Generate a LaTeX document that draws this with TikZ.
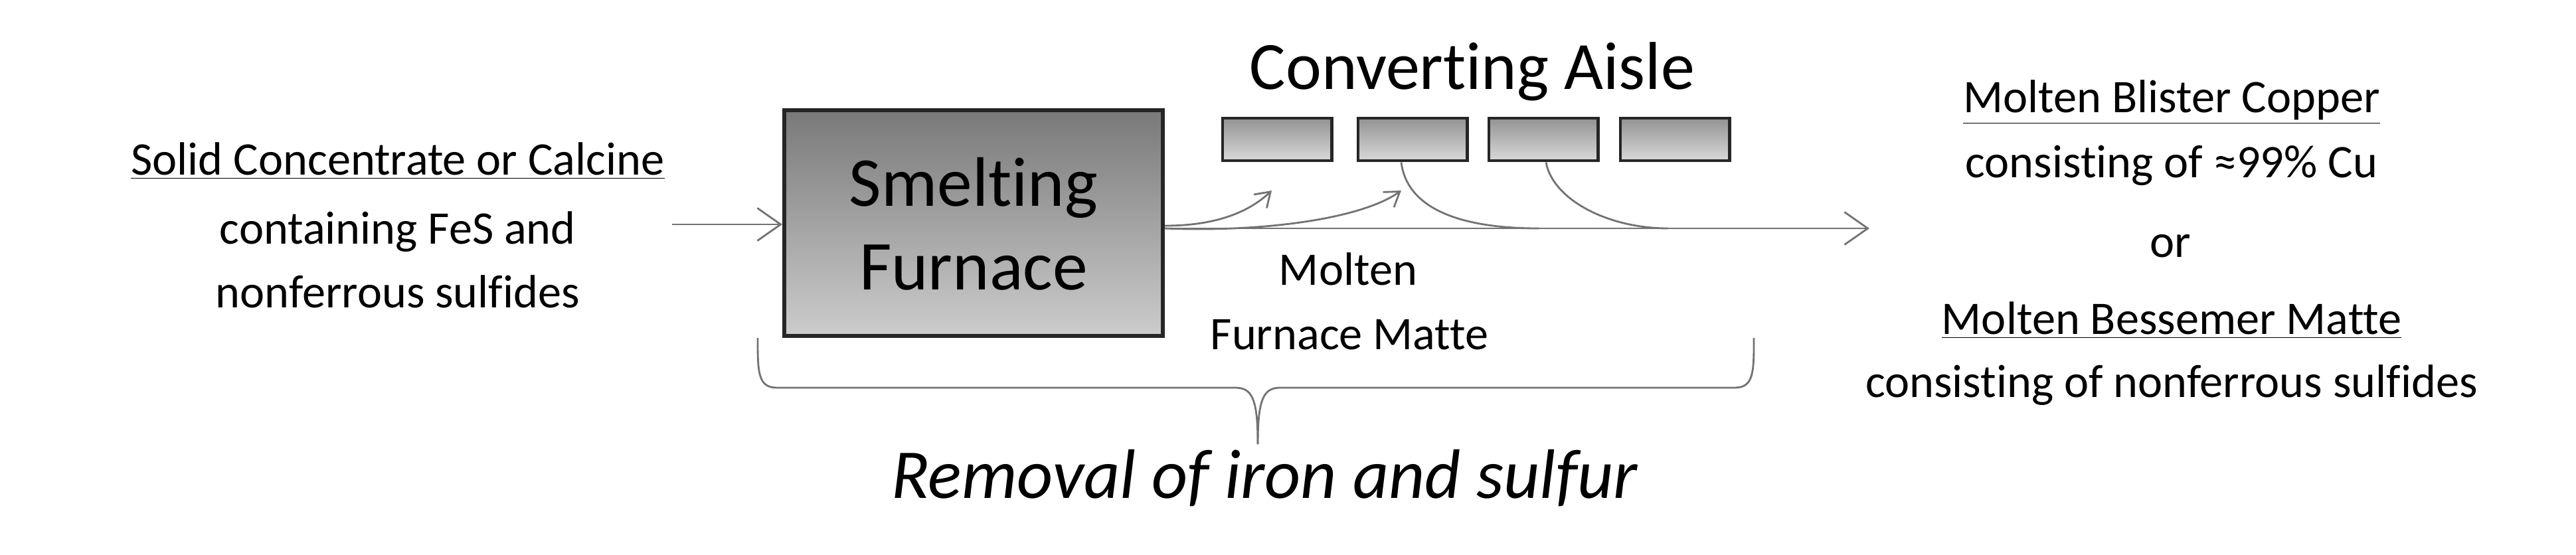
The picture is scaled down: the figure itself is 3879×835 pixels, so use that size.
\documentclass[tikz,border=0pt]{standalone}
\usepackage{fontspec}
\setmainfont{Carlito}[Ligatures=NoCommon]
\usetikzlibrary{arrows.meta}
\begin{document}
\begin{tikzpicture}[x=0.01cm,y=-0.01cm,
  txt/.style={font=\fontsize{20}{24}\selectfont, inner sep=0pt, anchor=base},
  flow/.style={draw=gray!90!black, line width=0.8pt},
  bighead/.style={-{Straight Barb[length=10pt,width=14pt]}},
  smallhead/.style={-{Straight Barb[length=6pt,width=8pt]}},
  conv/.style={draw=black!85, line width=1.4pt, top color=gray!85, bottom color=gray!30, minimum width=1.64cm, minimum height=0.64cm, inner sep=0pt}]
\useasboundingbox (0,0) rectangle (3879,835);
% left text
\node[txt] (in1) at (599,263) {\underline{Solid Concentrate or Calcine}};
\node[txt] (in2) at (599,367) {containing FeS and};
\node[txt] (in3) at (599,463) {nonferrous sulfides};
% furnace
\node[draw=black!85, line width=1.6pt, top color=gray!95!black, bottom color=gray!40, minimum width=5.7cm, minimum height=3.4cm, inner sep=0pt] (fur) at (1466,336) {};
\node[txt, font=\fontsize{30}{36}\selectfont] (s1) at (1466,310) {Smelting};
\node[txt, font=\fontsize{30}{36}\selectfont] (s2) at (1466,436) {Furnace};
\coordinate (inS) at (1012,338);
\draw[flow,bighead] (inS) -- (fur.west |- inS);
% converters
\node[conv] (c1) at (1923,210) {};
\node[conv] (c2) at (2127,210) {};
\node[conv] (c3) at (2324,210) {};
\node[conv] (c4) at (2522,210) {};
\node[txt, font=\fontsize{29}{34}\selectfont] (ca) at (2217,134) {Converting Aisle};
% flows
\coordinate (f1) at (1752,340);
\coordinate (t1) at (1915,287);
\coordinate (t2) at (2110,287);
\coordinate (m1) at (2317,344);
\coordinate (m2) at (2512,344);
\coordinate (out) at (2815,344);
\draw[flow,smallhead] (fur.east |- f1) .. controls (1830,340) and (1880,320) .. (t1);
\draw[flow,smallhead] (fur.east |- m1) .. controls (1900,350) and (2050,330) .. (t2);
\draw[flow] (c2.south -| t2) .. controls (2118,310) and (2190,344) .. (m1);
\draw[flow] (c3.south -| 2328,0) .. controls (2338,300) and (2420,344) .. (m2);
\draw[flow,bighead] (fur.east |- out) -- (out);
\node[txt] (mo1) at (2030,429) {Molten};
\node[txt] (mo2) at (2032,526) {Furnace Matte};
% right text
\node[txt] (r1) at (3270,169) {\underline{Molten Blister Copper}};
\node[txt] (r2) at (3270,267) {consisting of ≈99\% Cu};
\node[txt] (r3) at (3268,387) {or};
\node[txt] (r4) at (3270,503) {\underline{Molten Bessemer Matte}};
\node[txt] (r5) at (3270,598) {consisting of nonferrous sulfides};
% brace
\coordinate (bl) at (1141,509);
\coordinate (br) at (2641,509);
\coordinate (bt) at (1894,669);
\draw[flow] (bl) .. controls (1141,560) and (1141,584) .. (1170,584) -- (1860,584)
  .. controls (1885,584) and (1894,600) .. (bt);
\draw[flow] (br) .. controls (2641,560) and (2641,584) .. (2612,584) -- (1928,584)
  .. controls (1903,584) and (1894,600) .. (bt);
\node[txt, font=\fontsize{30}{36}\selectfont\itshape] (rem) at (1904,750) {Removal of iron and sulfur};
\end{tikzpicture}
\end{document}
